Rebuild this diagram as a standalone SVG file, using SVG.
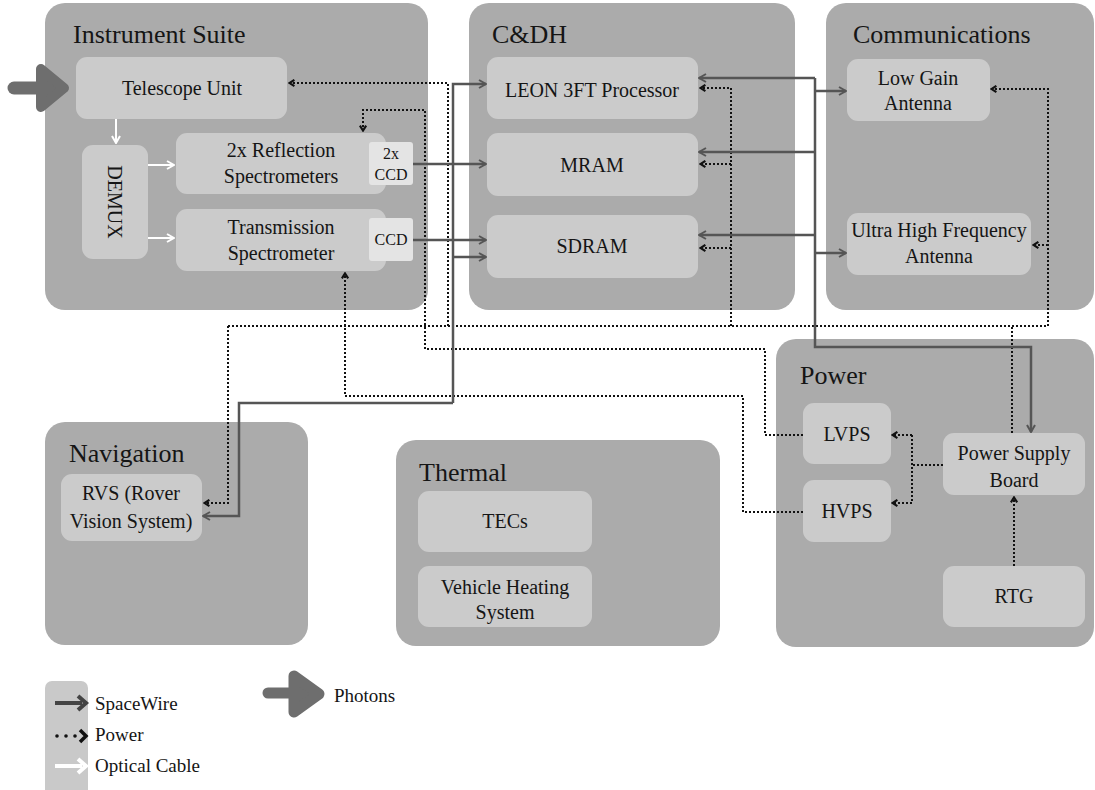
<svg xmlns="http://www.w3.org/2000/svg" width="1095" height="790" viewBox="0 0 1095 790" font-family="'Liberation Serif','Times New Roman',serif">
<style>
text{font-family:"Liberation Serif","Times New Roman",serif;fill:#151515}
.t{font-size:26px}
.n{font-size:20px;text-anchor:middle}
.s{font-size:16px;text-anchor:middle}
.l{font-size:19px}
.box{fill:#ababab}
.node{fill:#cbcbcb}
.ccd{fill:#e4e4e4}
.sw{fill:none;stroke:#555;stroke-width:2.5}
.pw{fill:none;stroke:#111;stroke-width:2;stroke-dasharray:2 2}
.op{fill:none;stroke:#fff;stroke-width:2}
.ph{fill:#6e6e6e;stroke:#6e6e6e;stroke-linejoin:round}
</style>
<defs>
<marker id="aSW" viewBox="0 0 10 10" refX="9" refY="5" markerWidth="10" markerHeight="10" markerUnits="userSpaceOnUse" orient="auto"><path d="M2,1 L9,5 L2,9" fill="none" stroke="#555" stroke-width="2"/></marker>
<marker id="aPW" viewBox="0 0 10 10" refX="9" refY="5" markerWidth="9" markerHeight="9" markerUnits="userSpaceOnUse" orient="auto"><path d="M3,1.5 L8.5,5 L3,8.5" fill="none" stroke="#111" stroke-width="2.4"/></marker>
<marker id="aOP" viewBox="0 0 10 10" refX="9" refY="5" markerWidth="10" markerHeight="10" markerUnits="userSpaceOnUse" orient="auto"><path d="M2,1 L9,5 L2,9" fill="none" stroke="#fff" stroke-width="2"/></marker>
</defs>
<rect width="1095" height="790" fill="#fff"/>

<g id="instrument-suite">
<rect class="box" x="45" y="3" width="383" height="307" rx="20"/>
<text class="t" x="73" y="43">Instrument Suite</text>
</g>
<g id="telescope-unit"><rect class="node" x="76" y="57" width="211" height="62" rx="11"/><text class="n" x="182" y="95">Telescope Unit</text></g>
<g id="demux"><rect class="node" x="82" y="145" width="66" height="114" rx="11"/><text class="n" transform="translate(108,202) rotate(90)" x="0" y="0">DEMUX</text></g>
<g id="reflection"><rect class="node" x="176" y="133" width="210" height="61" rx="11"/><text class="n" x="281" y="157">2x Reflection</text><text class="n" x="281" y="183">Spectrometers</text></g>
<g id="ccd2x"><rect class="ccd" x="369" y="142" width="44" height="43" rx="3"/><text class="s" x="391" y="159">2x</text><text class="s" x="391" y="180">CCD</text></g>
<g id="transmission"><rect class="node" x="176" y="209" width="210" height="62" rx="11"/><text class="n" x="281" y="234">Transmission</text><text class="n" x="281" y="260">Spectrometer</text></g>
<g id="ccd"><rect class="ccd" x="369" y="218" width="44" height="43" rx="3"/><text class="s" x="391" y="245">CCD</text></g>

<g id="cdh">
<rect class="box" x="469" y="3" width="326" height="307" rx="20"/>
<text class="t" x="492" y="43">C&amp;DH</text>
</g>
<g id="leon"><rect class="node" x="487" y="57" width="211" height="62" rx="11"/><text class="n" x="592" y="97">LEON 3FT Processor</text></g>
<g id="mram"><rect class="node" x="487" y="133" width="211" height="63" rx="11"/><text class="n" x="592" y="172">MRAM</text></g>
<g id="sdram"><rect class="node" x="487" y="215" width="211" height="63" rx="11"/><text class="n" x="592" y="253">SDRAM</text></g>

<g id="communications">
<rect class="box" x="826" y="3" width="268" height="307" rx="20"/>
<text class="t" x="853" y="43">Communications</text>
</g>
<g id="lga"><rect class="node" x="847" y="59" width="143" height="62" rx="11"/><text class="n" x="918" y="85">Low Gain</text><text class="n" x="918" y="110">Antenna</text></g>
<g id="uhf"><rect class="node" x="847" y="213" width="184" height="62" rx="11"/><text class="n" x="939" y="237">Ultra High Frequency</text><text class="n" x="939" y="263">Antenna</text></g>

<g id="power">
<rect class="box" x="776" y="339" width="318" height="308" rx="20"/>
<text class="t" x="800" y="384">Power</text>
</g>
<g id="lvps"><rect class="node" x="803" y="403" width="88" height="61" rx="11"/><text class="n" x="847" y="441">LVPS</text></g>
<g id="hvps"><rect class="node" x="803" y="480" width="88" height="62" rx="11"/><text class="n" x="847" y="518">HVPS</text></g>
<g id="psb"><rect class="node" x="943" y="433" width="142" height="62" rx="11"/><text class="n" x="1014" y="460">Power Supply</text><text class="n" x="1014" y="487">Board</text></g>
<g id="rtg"><rect class="node" x="943" y="566" width="142" height="61" rx="11"/><text class="n" x="1014" y="603">RTG</text></g>

<g id="navigation">
<rect class="box" x="45" y="422" width="263" height="223" rx="20"/>
<text class="t" x="69" y="462">Navigation</text>
</g>
<g id="rvs"><rect class="node" x="61" y="474" width="141" height="67" rx="11"/><text class="n" x="131" y="500">RVS (Rover</text><text class="n" x="131" y="528">Vision System)</text></g>

<g id="thermal">
<rect class="box" x="396" y="440" width="324" height="206" rx="20"/>
<text class="t" x="419" y="481">Thermal</text>
</g>
<g id="tecs"><rect class="node" x="418" y="491" width="174" height="61" rx="11"/><text class="n" x="505" y="528">TECs</text></g>
<g id="vhs"><rect class="node" x="418" y="566" width="174" height="61" rx="11"/><text class="n" x="505" y="594">Vehicle Heating</text><text class="n" x="505" y="619">System</text></g>

<g id="photon-input">
<line x1="14" y1="88" x2="45" y2="88" stroke="#6e6e6e" stroke-width="13" stroke-linecap="round"/>
<polygon class="ph" points="41,69 64,88 41,107" stroke-width="10"/>
</g>

<g id="connectors">
<path class="op" d="M116,119 V143" marker-end="url(#aOP)"/>
<path class="op" d="M148,165 H174" marker-end="url(#aOP)"/>
<path class="op" d="M148,238 H174" marker-end="url(#aOP)"/>
<path class="pw" d="M228,326 H1048"/>
<path class="pw" d="M1012,433 V326"/>
<path class="pw" d="M448,326 V83 H289" marker-end="url(#aPW)"/>
<path class="pw" d="M228,326 V503 H204" marker-end="url(#aPW)"/>
<path class="pw" d="M731,326 V88 H700" marker-end="url(#aPW)"/>
<path class="pw" d="M731,164 H700" marker-end="url(#aPW)"/>
<path class="pw" d="M731,248 H700" marker-end="url(#aPW)"/>
<path class="pw" d="M1048,326 V89 H991" marker-end="url(#aPW)"/>
<path class="pw" d="M1048,245 H1033" marker-end="url(#aPW)"/>
<path class="pw" d="M803,435 H765 V349 H425 V110 H363 V131" marker-end="url(#aPW)"/>
<path class="pw" d="M803,512 H743 V396 H345 V273" marker-end="url(#aPW)"/>
<path class="pw" d="M943,465 H912"/>
<path class="pw" d="M912,435 V503"/>
<path class="pw" d="M912,435 H892" marker-end="url(#aPW)"/>
<path class="pw" d="M912,503 H892" marker-end="url(#aPW)"/>
<path class="pw" d="M1014,566 V497" marker-end="url(#aPW)"/>
<path class="sw" d="M413,164 H486" marker-end="url(#aSW)"/>
<path class="sw" d="M413,240 H486" marker-end="url(#aSW)"/>
<path class="sw" d="M453,403 V84 H486" marker-end="url(#aSW)"/>
<path class="sw" d="M453,257 H486" marker-end="url(#aSW)"/>
<path class="sw" d="M453,403 H239 V516 H203" marker-end="url(#aSW)"/>
<path class="sw" d="M815,78 V347 H1031 V432" marker-end="url(#aSW)"/>
<path class="sw" d="M815,78 H699" marker-end="url(#aSW)"/>
<path class="sw" d="M815,152 H699" marker-end="url(#aSW)"/>
<path class="sw" d="M815,235 H699" marker-end="url(#aSW)"/>
<path class="sw" d="M815,91 H846" marker-end="url(#aSW)"/>
<path class="sw" d="M815,253 H846" marker-end="url(#aSW)"/>
</g>

<g id="legend">
<rect x="45" y="681" width="43" height="118" rx="7" fill="#c9c9c9"/>
<line x1="55" y1="703" x2="82" y2="703" stroke="#444" stroke-width="4"/>
<path d="M78,696 L86,703 L78,710" fill="none" stroke="#444" stroke-width="4"/>
<circle cx="57" cy="736" r="1.8" fill="#111"/>
<circle cx="66" cy="736" r="1.8" fill="#111"/>
<circle cx="75" cy="736" r="1.8" fill="#111"/>
<path d="M80,730 L86,736 L80,742" fill="none" stroke="#111" stroke-width="3.5"/>
<line x1="55" y1="766" x2="82" y2="766" stroke="#fff" stroke-width="4"/>
<path d="M78,759 L86,766 L78,773" fill="none" stroke="#fff" stroke-width="4"/>
<text class="l" x="95" y="710">SpaceWire</text>
<text class="l" x="95" y="741">Power</text>
<text class="l" x="95" y="772">Optical Cable</text>
<line x1="268" y1="693" x2="298" y2="693" stroke="#6e6e6e" stroke-width="11" stroke-linecap="round"/>
<polygon class="ph" points="294,676 319,694 294,712" stroke-width="11"/>
<text class="l" x="334" y="702">Photons</text>
</g>
</svg>
